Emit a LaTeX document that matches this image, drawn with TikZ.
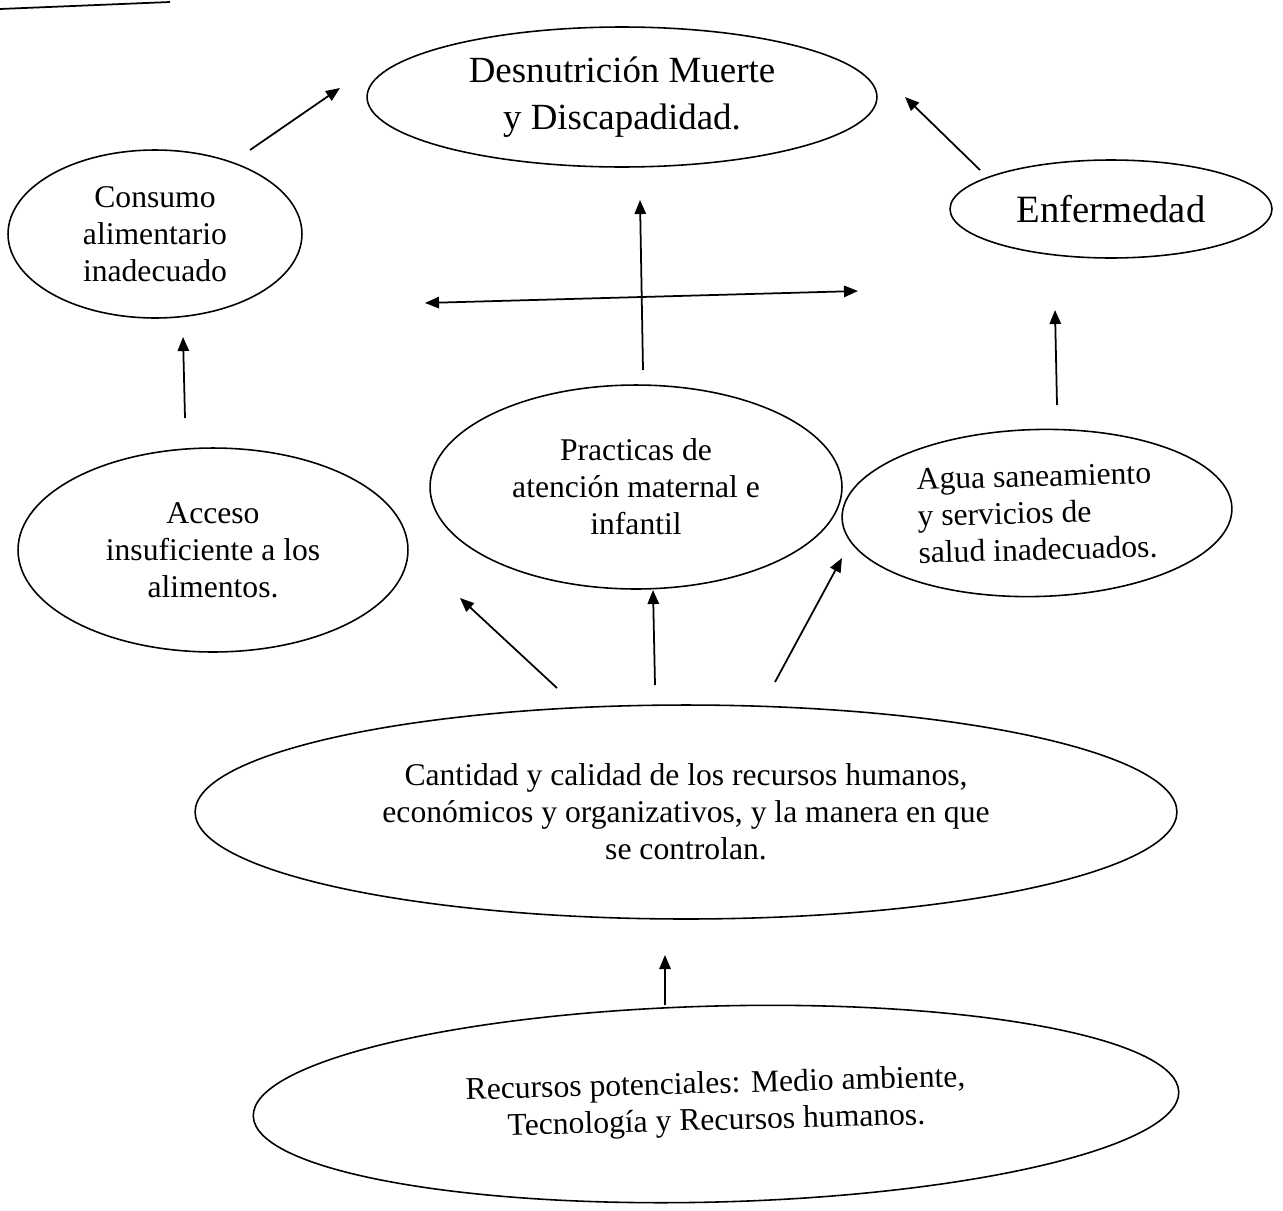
\documentclass[tikz,border=0pt]{standalone}
\usepackage{fontspec}
\setmainfont{Liberation Serif}
\usetikzlibrary{shapes.geometric,arrows.meta}

\tikzset{
  burbuja/.style={draw, ellipse, inner sep=0pt, align=center, line width=0.9pt,
    font=\fontsize{18}{21}\selectfont},
  flecha/.style={-{Triangle[length=8pt,width=6.5pt]}, line width=1pt},
  dobleflecha/.style={{Triangle[length=8pt,width=6.5pt]}-{Triangle[length=8pt,width=6.5pt]}, line width=1pt},
}

\begin{document}
\begin{tikzpicture}[x=0.02cm,y=-0.02cm]
\useasboundingbox (0,0) rectangle (1283,1210);

% trazo del borde superior
\draw[line width=1pt] (0,9) -- (170,2);

% elipses
\node[burbuja, minimum width=10.2cm, minimum height=2.8cm,
  font=\fontsize{21}{27}\selectfont] (desnut) at (622,97)
  {Desnutrición Muerte\\ y Discapadidad.};
\node[burbuja, minimum width=5.88cm, minimum height=3.36cm] (consumo) at (155,234)
  {Consumo\\ alimentario\\ inadecuado};
\node[burbuja, minimum width=6.44cm, minimum height=1.96cm,
  font=\fontsize{22}{26}\selectfont] (enferm) at (1111,209) {Enfermedad};
\node[burbuja, minimum width=7.8cm, minimum height=4.08cm] (acceso) at (213,550)
  {Acceso\\ insuficiente a los\\ alimentos.};
\node[burbuja, minimum width=8.24cm, minimum height=4.08cm] (practicas) at (636,487)
  {Practicas de\\ atención maternal e\\ infantil};
\node[burbuja, minimum width=7.8cm, minimum height=3.34cm, align=left, rotate=1.5] (agua) at (1037,513)
  {Agua saneamiento\\ y servicios de\\ salud inadecuados.};
\node[burbuja, minimum width=19.64cm, minimum height=4.28cm] (cantidad) at (686,812)
  {Cantidad y calidad de los recursos humanos,\\ económicos y organizativos, y la manera en que\\ se controlan.};
\node[burbuja, minimum width=18.52cm, minimum height=3.92cm, rotate=1.5,
  font=\fontsize{18}{21}\selectfont] (recursos) at (716,1104)
  {Recursos potenciales: Medio ambiente,\\ Tecnología y Recursos humanos.};

% extremos libres de las flechas
\coordinate (consumoSal) at (250,150);
\coordinate (desnutIzq) at (340,88);
\coordinate (enfermSal) at (980,170);
\coordinate (desnutDer) at (905,97);
\coordinate (practicasSal) at (643,370);
\coordinate (desnutAba) at (640,200);
\coordinate (ejeIzq) at (425,303);
\coordinate (ejeDer) at (858,291);
\coordinate (accesoSal) at (185,418);
\coordinate (consumoAba) at (183,337);
\coordinate (aguaSal) at (1057,405);
\coordinate (enfermAba) at (1055,310);
\coordinate (cantidadIzq) at (557,688);
\coordinate (accesoAba) at (460,598);
\coordinate (cantidadCen) at (655,685);
\coordinate (practicasAba) at (653,590);
\coordinate (cantidadDer) at (775,682);
\coordinate (aguaAba) at (842,558);
\coordinate (recursosSal) at (665,1005);
\coordinate (cantidadAba) at (665,955);

% flechas
\draw[flecha] (consumoSal) -- (desnutIzq);
\draw[flecha] (enfermSal) -- (desnutDer);
\draw[flecha] (practicasSal) -- (desnutAba);
\draw[dobleflecha] (ejeIzq) -- (ejeDer);
\draw[flecha] (accesoSal) -- (consumoAba);
\draw[flecha] (aguaSal) -- (enfermAba);
\draw[flecha] (cantidadIzq) -- (accesoAba);
\draw[flecha] (cantidadCen) -- (practicasAba);
\draw[flecha] (cantidadDer) -- (aguaAba);
\draw[flecha] (recursosSal) -- (cantidadAba);
\end{tikzpicture}
\end{document}
